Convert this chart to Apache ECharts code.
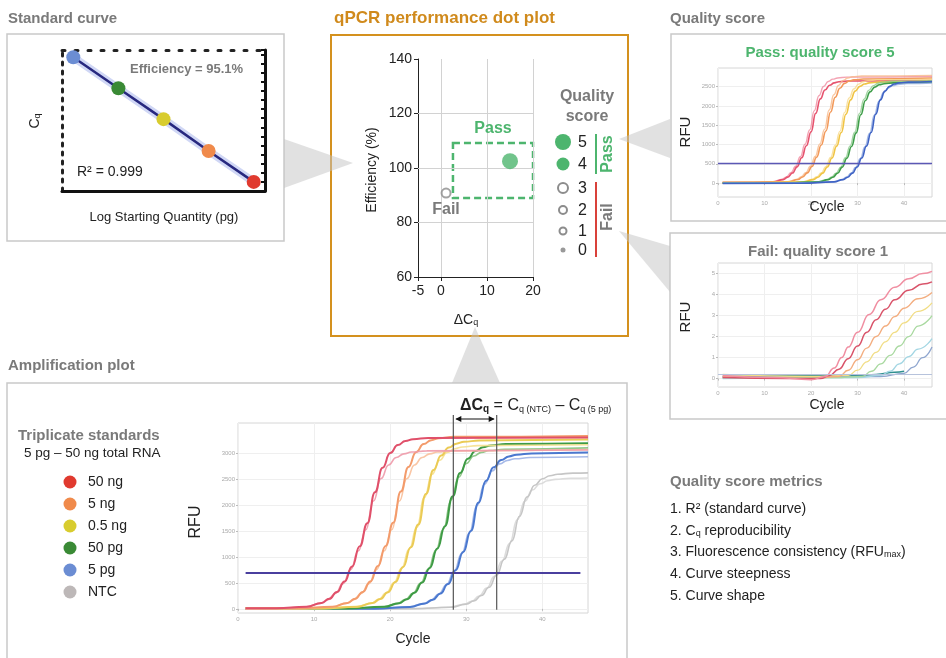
<!DOCTYPE html>
<html><head><meta charset="utf-8">
<script src="https://cdn.jsdelivr.net/npm/echarts@6/dist/echarts.min.js"></script>
<style>html,body{margin:0;padding:0;background:#fff}#c{width:946px;height:658px}</style>
</head><body><div id="c"></div>
<script>
// ---------------- DATA ----------------
// Standard curve
const stdLogQty = [0.7, 1.7, 2.7, 3.7, 4.7];
const stdCq = [28.7, 25.3, 21.9, 18.4, 15.0];
const stdLabelEff = 'Efficiency = 95.1%';
const stdLabelR2 = 'R² = 0.999';

// Dot plot
const dotDeltaCq = [15, 1.1];
const dotEfficiency = [102.5, 90.8];
const dotScore = [5, 1];
const dotXTicks = [-5, 0, 10, 20];
const dotYTicks = [60, 80, 100, 120, 140];
const passRegionDeltaCq = [2.6, 20];
const passRegionEff = [89, 109.2];
const scoreLegend = [5, 4, 3, 2, 1, 0];

// Amplification standards
const standardNames = ['50 ng', '5 ng', '0.5 ng', '50 pg', '5 pg', 'NTC'];
const cycleTicks = [0, 10, 20, 30, 40];
const ampYTicks = [0, 500, 1000, 1500, 2000, 2500, 3000];
const ampThreshold = 690;
const ampThresholdSpan = [1, 45];
const ampCqLines = [28.3, 34.0];

const ampRed1 = [[1,10],[5,12],[9,40],[11,114],[12,193],[13,323],[14,525],[15,818],[16,1205],[17,1650],[18,2247],[19,2716],[20,3000],[21,3155],[22,3231],[23,3267],[25,3293],[46,3300]];
const ampRed2 = [[1,5],[5,8],[8.8,37],[10.8,105],[11.8,178],[12.8,299],[13.8,485],[14.8,756],[15.8,1113],[16.8,1525],[17.8,2077],[18.8,2510],[19.8,2772],[20.8,2916],[21.8,2986],[22.8,3020],[24.8,3044],[46,3060]];
const ampOrange1 = [[1,10],[8,12],[12.4,40],[14.4,115],[15.4,194],[16.4,325],[17.4,528],[18.4,823],[19.4,1212],[20.4,1660],[21.4,2261],[22.4,2732],[23.4,3018],[24.4,3174],[25.4,3250],[26.4,3287],[28.4,3313],[46,3330]];
const ampOrange2 = [[1,0],[8,5],[12.2,37],[14.2,105],[15.2,178],[16.2,299],[17.2,485],[18.2,756],[19.2,1113],[20.2,1525],[21.2,2077],[22.2,2510],[23.2,2772],[24.2,2916],[25.2,2986],[26.2,3020],[28.2,3044],[46,3070]];
const ampYellow1 = [[1,10],[11,12],[15.7,39],[17.7,112],[18.7,190],[19.7,319],[20.7,517],[21.7,806],[22.7,1186],[23.7,1625],[24.7,2213],[25.7,2675],[26.7,2954],[27.7,3107],[28.7,3182],[29.7,3218],[31.7,3244],[46,3260]];
const ampYellow2 = [[1,0],[11,5],[15.5,38],[17.5,109],[18.5,184],[19.5,309],[20.5,501],[21.5,781],[22.5,1150],[23.5,1575],[24.5,2145],[25.5,2592],[26.5,2863],[27.5,3011],[28.5,3084],[29.5,3119],[31.5,3144],[46,3160]];
const ampGreen1 = [[1,5],[14,8],[19.2,38],[21.2,110],[22.2,186],[23.2,312],[24.2,506],[25.2,789],[26.2,1161],[27.2,1590],[28.2,2166],[29.2,2617],[30.2,2891],[31.2,3040],[32.2,3113],[33.2,3148],[35.2,3174],[46,3190]];
const ampGreen2 = [[1,0],[14,4],[19,37],[21,106],[22,180],[23,302],[24,490],[25,764],[26,1124],[27,1540],[28,2097],[29,2535],[30,2800],[31,2944],[32,3015],[33,3049],[35,3074],[46,3100]];
const ampBlue1 = [[1,0],[18,4],[22.6,36],[24.6,104],[25.6,176],[26.6,294],[27.6,477],[28.6,744],[29.6,1095],[30.6,1500],[31.6,2043],[32.6,2469],[33.6,2727],[34.6,2868],[35.6,2937],[36.6,2970],[38.6,2994],[46,3010]];
const ampBlue2 = [[1,10],[18,10],[22.4,35],[24.4,101],[25.4,171],[26.4,286],[27.4,464],[28.4,724],[29.4,1066],[30.4,1460],[31.4,1989],[32.4,2403],[33.4,2654],[34.4,2792],[35.4,2859],[36.4,2891],[38.4,2914],[46,2930]];
const ampNtc1 = [[1,0],[23,3],[28,31],[30,90],[31,153],[32,257],[33,417],[34,650],[35,956],[36,1310],[37,1784],[38,2156],[39,2382],[40,2505],[41,2565],[42,2594],[44,2615],[46,2620]];
const ampNtc2 = [[1,5],[23,5],[27.7,30],[29.7,87],[30.7,147],[31.7,247],[32.7,401],[33.7,625],[34.7,920],[35.7,1260],[36.7,1716],[37.7,2074],[38.7,2291],[39.7,2409],[40.7,2467],[41.7,2495],[43.7,2515],[46,2520]];

// Pass: quality score 5
const passYTicks = [0, 500, 1000, 1500, 2000, 2500];
const passThreshold = 510;
const passRed1 = [[1,10],[6,15],[12,32],[14,91],[15,155],[16,260],[17,421],[18,657],[19,967],[20,1325],[21,1805],[22,2181],[23,2409],[24,2533],[25,2594],[26,2624],[28,2645],[46,2660]];
const passRed2 = [[1,30],[6,30],[11.7,33],[13.7,95],[14.7,161],[15.7,270],[16.7,437],[17.7,682],[18.7,1004],[19.7,1375],[20.7,1873],[21.7,2263],[22.7,2500],[23.7,2629],[24.7,2692],[25.7,2723],[27.7,2745],[46,2760]];
const passOrange1 = [[1,0],[9,10],[15.2,32],[17.2,93],[18.2,158],[19.2,265],[20.2,429],[21.2,670],[22.2,986],[23.2,1350],[24.2,1839],[25.2,2222],[26.2,2454],[27.2,2581],[28.2,2643],[29.2,2673],[31.2,2695],[46,2720]];
const passOrange2 = [[1,20],[9,22],[14.9,33],[16.9,96],[17.9,163],[18.9,272],[19.9,442],[20.9,689],[21.9,1015],[22.9,1390],[23.9,1893],[24.9,2288],[25.9,2527],[26.9,2658],[27.9,2722],[28.9,2752],[30.9,2774],[46,2790]];
const passYellow1 = [[1,15],[12,18],[18.5,31],[20.5,90],[21.5,153],[22.5,257],[23.5,417],[24.5,650],[25.5,956],[26.5,1310],[27.5,1784],[28.5,2156],[29.5,2382],[30.5,2505],[31.5,2565],[32.5,2594],[34.5,2615],[46,2640]];
const passYellow2 = [[1,0],[12,8],[18.2,32],[20.2,92],[21.2,157],[22.2,263],[23.2,426],[24.2,665],[25.2,978],[26.2,1340],[27.2,1825],[28.2,2206],[29.2,2436],[30.2,2562],[31.2,2624],[32.2,2653],[34.2,2675],[46,2690]];
const passGreen1 = [[1,0],[15,5],[21.7,31],[23.7,90],[24.7,152],[25.7,255],[26.7,413],[27.7,645],[28.7,949],[29.7,1300],[30.7,1771],[31.7,2140],[32.7,2363],[33.7,2486],[34.7,2545],[35.7,2574],[37.7,2595],[46,2610]];
const passGreen2 = [[1,10],[15,12],[21.4,32],[23.4,91],[24.4,154],[25.4,259],[26.4,420],[27.4,655],[28.4,964],[29.4,1320],[30.4,1798],[31.4,2173],[32.4,2400],[33.4,2524],[34.4,2585],[35.4,2614],[37.4,2635],[46,2650]];
const passBlue1 = [[1,-10],[18,-5],[24.9,31],[26.9,90],[27.9,153],[28.9,257],[29.9,417],[30.9,650],[31.9,956],[32.9,1310],[33.9,1784],[34.9,2156],[35.9,2382],[36.9,2505],[37.9,2565],[38.9,2594],[40.9,2615],[46,2630]];
const passBlue2 = [[1,5],[18,8],[24.6,31],[26.6,89],[27.6,151],[28.6,253],[29.6,410],[30.6,640],[31.6,942],[32.6,1290],[33.6,1757],[34.6,2123],[35.6,2345],[36.6,2466],[37.6,2526],[38.6,2554],[40.6,2575],[46,2590]];

// Fail: quality score 1
const failYTicks = [0, 1, 2, 3, 4, 5];
const failThreshold = 0.2;
const failPink = [[1,0.15],[12,0.05],[20,-0.05],[23,0.1],[25,0.5],[26.6,1.0],[28,1.5],[30,2.2],[32.5,3.05],[35,3.75],[38,4.35],[41,4.75],[44,5.0],[46,5.1]];
const failRed = [[1,0.05],[15,0.0],[22,0.0],[24,0.15],[26,0.45],[28,0.95],[30,1.55],[32,2.2],[34,2.8],[36,3.3],[38,3.75],[41,4.2],[44,4.5],[46,4.6]];
const failOrange = [[1,0.1],[20,0.0],[26,0.1],[28,0.4],[30,0.9],[32,1.45],[34,2.0],[36,2.5],[38,2.95],[40,3.35],[43,3.8],[46,4.1]];
const failYellow = [[1,0.2],[20,0.1],[28,0.15],[30,0.4],[32,0.8],[34,1.25],[36,1.75],[38,2.2],[40,2.65],[43,3.2],[46,3.6]];
const failLightGreen = [[1,0.05],[25,0.05],[31,0.1],[33,0.35],[35,0.7],[37,1.1],[39,1.55],[41,2.0],[43,2.5],[46,3.0]];
const failCyan = [[1,0.0],[30,0.05],[35,0.15],[37,0.35],[39,0.7],[41,1.05],[43,1.4],[46,1.9]];
const failBlue = [[1,0.05],[35,0.1],[40,0.25],[42,0.55],[44,1.0],[46,1.5]];
const failTeal = [[1,0.1],[30,0.15],[34,0.2],[38,0.3],[40,0.35]];

const metricItems = ['1. R² (standard curve)', '2. C{s|q} reproducibility', '3. Fluorescence consistency (RFU{s|max})', '4. Curve steepness', '5. Curve shape'];

// ---------------- STYLE ----------------
const FONT = '"Liberation Sans", Arial, Helvetica, sans-serif';
const GRAY_T = '#7a7a7a';
const GREEN = '#4DB56E';
const ORANGE_T = '#D08A1C';
const stdColors = ['#6B8DD3', '#3A8A35', '#D8CC2E', '#F08A4B', '#E03A2F'];
const legendColors = ['#E03A2F', '#F08A4B', '#D8CC2E', '#3A8A35', '#6B8DD3', '#BDB8B8'];
const sizeByScore = {5: 16, 4: 13, 3: 12, 2: 10, 1: 9, 0: 5};
function scoreStyle(s) {
  if (s >= 4) return {color: GREEN};
  if (s === 0) return {color: '#999'};
  return {color: '#fff', borderColor: '#8c8c8c', borderWidth: 2};
}
const zip = (a, b) => a.map((v, i) => [v, b[i]]);
const AX_STD = 0, AX_DOT = 2, AX_PASS = 3, AX_FAIL = 4, AX_AMP = 5;

const chart = echarts.init(document.getElementById('c'), null, {renderer: 'canvas'});

function curve(data, color, ax, width, opacity) {
  return {type: 'line', xAxisIndex: ax, yAxisIndex: ax, data: data, smooth: true, smoothMonotone: 'x',
    showSymbol: false, symbol: 'none', silent: true, z: 3,
    lineStyle: {color: color, width: width || 1.5, opacity: opacity == null ? 1 : opacity}};
}
const tinyLabel = {fontSize: 6, color: '#aaa', fontFamily: FONT, margin: 3, formatter: v => String(v)};
function plotX(gi) {
  return {type: 'value', gridIndex: gi, min: 0, max: 46, interval: 10,
    axisLine: {show: false}, axisTick: {show: true, length: 2, customValues: cycleTicks, lineStyle: {color: '#bbb'}},
    axisLabel: Object.assign({customValues: cycleTicks}, tinyLabel), splitLine: {show: true, lineStyle: {color: '#efefef'}}};
}
function plotY(gi, min, max, ticks) {
  return {type: 'value', gridIndex: gi, min: min, max: max,
    axisLine: {show: false}, axisTick: {show: true, length: 2, customValues: ticks, lineStyle: {color: '#bbb'}},
    axisLabel: Object.assign({customValues: ticks}, tinyLabel), splitLine: {show: true, lineStyle: {color: '#efefef'}}};
}
const plotGrid = (l, t, w, h) => ({left: l, top: t, width: w, height: h, show: true, borderColor: '#d6d6d6', borderWidth: 1, backgroundColor: '#fff', containLabel: false, outerBoundsMode: 'none'});

const option = {
  animation: false,
  backgroundColor: '#fff',
  grid: [
    {left: 62, top: 50, width: 203, height: 141, containLabel: false, outerBoundsMode: 'none'},
    {left: 418, top: 59, width: 115, height: 218, containLabel: false, outerBoundsMode: 'none'},
    plotGrid(718, 68, 214, 129),
    plotGrid(718, 263, 214, 124),
    plotGrid(238, 423, 350, 190)
  ],
  xAxis: [
    {type: 'value', gridIndex: 0, min: 0.45, max: 4.95, position: 'bottom',
      axisLine: {show: true, lineStyle: {color: '#111', width: 3}}, axisTick: {show: false}, axisLabel: {show: false}, splitLine: {show: false}},
    {type: 'value', gridIndex: 0, min: 0.45, max: 4.95, position: 'top',
      axisLine: {show: true, lineStyle: {color: '#222', width: 3, type: [3, 10]}}, axisTick: {show: false}, axisLabel: {show: false}, splitLine: {show: false}},
    {type: 'value', gridIndex: 1, min: -5, max: 20, interval: 5,
      axisLine: {show: true, onZero: false, lineStyle: {color: '#222', width: 1}},
      axisTick: {show: true, length: 4, customValues: dotXTicks, lineStyle: {color: '#222'}},
      axisLabel: {customValues: dotXTicks, fontSize: 14, color: '#222', fontFamily: FONT, margin: 7},
      splitLine: {show: false}},
    plotX(2), plotX(3), plotX(4)
  ],
  yAxis: [
    {type: 'value', gridIndex: 0, min: 14, max: 29.5, position: 'left',
      axisLine: {show: true, onZero: false, lineStyle: {color: '#222', width: 3, type: [3, 6]}}, axisTick: {show: false}, axisLabel: {show: false}, splitLine: {show: false}},
    {type: 'value', gridIndex: 0, min: 14, max: 29.5, interval: 1, position: 'right',
      axisLine: {show: true, onZero: false, lineStyle: {color: '#111', width: 3}},
      axisTick: {show: true, inside: true, length: 4, lineStyle: {color: '#111', width: 2}}, axisLabel: {show: false}, splitLine: {show: false}},
    {type: 'value', gridIndex: 1, min: 60, max: 140, interval: 20,
      axisLine: {show: true, onZero: false, lineStyle: {color: '#222', width: 1}},
      axisTick: {show: true, length: 4, lineStyle: {color: '#222'}},
      axisLabel: {fontSize: 14, color: '#222', fontFamily: FONT, margin: 6}, splitLine: {show: false}},
    plotY(2, -360, 2980, passYTicks),
    plotY(3, -0.4, 5.5, failYTicks),
    plotY(4, -80, 3580, ampYTicks)
  ],
  series: [
    // standard curve
    {type: 'line', xAxisIndex: AX_STD, yAxisIndex: AX_STD, data: zip(stdLogQty, stdCq), showSymbol: false, symbol: 'none', silent: true, z: 2,
      lineStyle: {color: 'rgba(120,140,225,0.35)', width: 8}},
    {type: 'line', xAxisIndex: AX_STD, yAxisIndex: AX_STD, data: zip(stdLogQty, stdCq), showSymbol: false, symbol: 'none', silent: true, z: 3,
      lineStyle: {color: '#27287F', width: 2.5}},
    {type: 'scatter', xAxisIndex: AX_STD, yAxisIndex: AX_STD, data: zip(stdLogQty, stdCq), symbolSize: 14, silent: true, z: 5,
      itemStyle: {color: p => stdColors[p.dataIndex], opacity: 1}},
    // dot plot
    {type: 'scatter', xAxisIndex: AX_DOT, yAxisIndex: AX_DOT, silent: true, z: 5,
      data: dotDeltaCq.map((x, i) => ({value: [x, dotEfficiency[i]], symbolSize: sizeByScore[dotScore[i]], itemStyle: scoreStyle(dotScore[i])})),
      markLine: {silent: true, symbol: 'none', label: {show: false}, z: 1,
        lineStyle: {color: '#d2d2d2', width: 1, type: 'solid'},
        data: dotXTicks.slice(1).map(v => ({xAxis: v})).concat(dotYTicks.slice(1, -1).map(v => ({yAxis: v})))},
      markArea: {silent: true, label: {show: false},
        itemStyle: {color: 'rgba(0,0,0,0)', borderColor: GREEN, borderWidth: 2.5, borderType: [7, 4]},
        data: [[{coord: [passRegionDeltaCq[0], passRegionEff[1]]}, {coord: [passRegionDeltaCq[1], passRegionEff[0]]}]]}},
    // pass plot
    curve(passRed2, '#F08CA0', AX_PASS, 1.4, 0.8),
    curve(passRed1, '#E6536E', AX_PASS, 1.6),
    curve(passOrange2, '#F7B98A', AX_PASS, 1.4, 0.8),
    curve(passOrange1, '#F2995A', AX_PASS, 1.6),
    curve(passYellow2, '#F7DA8A', AX_PASS, 1.4, 0.8),
    curve(passYellow1, '#F0C445', AX_PASS, 1.6),
    curve(passGreen2, '#8CCB8C', AX_PASS, 1.4, 0.8),
    curve(passGreen1, '#3F9E4A', AX_PASS, 1.6),
    curve(passBlue2, '#8FA8E0', AX_PASS, 1.4, 0.8),
    Object.assign(curve(passBlue1, '#3F63C4', AX_PASS, 1.6), {
      markLine: {silent: true, symbol: 'none', label: {show: false}, lineStyle: {color: '#5B58B5', width: 1.3, type: 'solid'}, data: [{yAxis: passThreshold}]}}),
    // fail plot
    curve(failTeal, '#2F8F8F', AX_FAIL, 1.5),
    curve(failBlue, '#8FA6CF', AX_FAIL, 1.3),
    curve(failCyan, '#A3D6E3', AX_FAIL, 1.3),
    curve(failLightGreen, '#A9D9A0', AX_FAIL, 1.3),
    curve(failYellow, '#F1DD85', AX_FAIL, 1.3),
    curve(failOrange, '#F3AE80', AX_FAIL, 1.4),
    curve(failRed, '#D9546A', AX_FAIL, 1.5),
    Object.assign(curve(failPink, '#F08FA2', AX_FAIL, 1.5), {
      markLine: {silent: true, symbol: 'none', label: {show: false}, lineStyle: {color: '#B7C3DC', width: 1, type: 'solid'}, data: [{yAxis: failThreshold}]}}),
    // amplification plot
    curve(ampNtc2, '#DCDCDC', AX_AMP, 1.6),
    curve(ampNtc1, '#C6C6C6', AX_AMP, 1.6),
    curve(ampBlue2, '#9DB2E6', AX_AMP, 1.6, 0.9),
    curve(ampBlue1, '#4A78CF', AX_AMP, 2),
    curve(ampGreen2, '#86C27E', AX_AMP, 1.6, 0.9),
    curve(ampGreen1, '#3E9B45', AX_AMP, 2),
    curve(ampYellow2, '#F5E08F', AX_AMP, 1.6, 0.9),
    curve(ampYellow1, '#EBCB55', AX_AMP, 2),
    curve(ampOrange2, '#F8C09B', AX_AMP, 1.6, 0.9),
    curve(ampOrange1, '#F39B6B', AX_AMP, 2),
    curve(ampRed2, '#EE9AAA', AX_AMP, 1.6, 0.9),
    Object.assign(curve(ampRed1, '#E0506A', AX_AMP, 2), {
      markLine: {silent: true, symbol: 'none', label: {show: false}, z: 6, lineStyle: {color: '#4A3F9E', width: 2, type: 'solid'},
        data: [[{coord: [ampThresholdSpan[0], ampThreshold]}, {coord: [ampThresholdSpan[1], ampThreshold]}]]}})
  ]
};
chart.setOption(option);

// ---------------- GRAPHICS (boxes, text, legends, connectors) ----------------
function txt(x, y, text, o) {
  o = o || {};
  const rich = {};
  const base = {fontFamily: FONT, fill: o.color || '#222', color: o.color || '#222'};
  if (o.rich) {
    for (const k in o.rich) rich[k] = Object.assign({}, base, o.rich[k]);
  }
  return {type: 'text', x: x, y: y, rotation: o.rot || 0, z: 100,
    style: {text: text, fill: o.color || '#222', fontSize: o.size || 14, fontWeight: o.bold ? 'bold' : 'normal',
      fontFamily: FONT, align: o.align || 'left', verticalAlign: o.va || 'middle', rich: o.rich ? rich : undefined}};
}
const subRich = (size) => ({
  m: {fontSize: size, lineHeight: size + 4, verticalAlign: 'bottom'},
  s: {fontSize: Math.round(size * 0.62), lineHeight: size + 4, verticalAlign: 'bottom'}
});
const box = (x, y, w, h, stroke, lw) => ({type: 'rect', z: -5, shape: {x: x, y: y, width: w, height: h},
  style: {fill: '#fff', stroke: stroke, lineWidth: lw}});
const tri = (pts) => ({type: 'polygon', z: -4, shape: {points: pts}, style: {fill: 'rgba(195,195,195,0.5)'}});

const g = [];
g.push(box(7, 34, 277, 207, '#c9c9c9', 1.5));
g.push(box(331, 35, 297, 301, '#D4911E', 2));
g.push(box(671, 34, 290, 187, '#c9c9c9', 1.5));
g.push(box(670, 233, 290, 186, '#c9c9c9', 1.5));
g.push(box(7, 383, 620, 300, '#c9c9c9', 1.5));
g.push(tri([[284, 139], [353, 163], [284, 188]]));
g.push(tri([[452, 383], [475, 327], [500, 383]]));
g.push(tri([[619, 139], [670, 119], [670, 158]]));
g.push(tri([[619, 231], [670, 246], [670, 292]]));

g.push(txt(8, 19, 'Standard curve', {bold: true, size: 15, color: GRAY_T}));
g.push(txt(334, 18, 'qPCR performance dot plot', {bold: true, size: 17, color: ORANGE_T}));
g.push(txt(670, 19, 'Quality score', {bold: true, size: 15, color: GRAY_T}));
g.push(txt(8, 366, 'Amplification plot', {bold: true, size: 15, color: GRAY_T}));

g.push(txt(130, 69, stdLabelEff, {bold: true, size: 13, color: GRAY_T}));
g.push(txt(77, 172, stdLabelR2, {size: 14}));
g.push(txt(164, 217, 'Log Starting Quantity (pg)', {size: 13, align: 'center'}));
g.push(txt(33, 121, '{m|C}{s|q}', {rot: Math.PI / 2, align: 'center', rich: subRich(14)}));

g.push(txt(372, 170, 'Efficiency (%)', {rot: Math.PI / 2, align: 'center', size: 14}));
g.push(txt(466, 318, '{m|ΔC}{s|q}', {align: 'center', rich: subRich(14)}));
g.push(txt(493, 129, 'Pass', {bold: true, size: 16, color: GREEN, align: 'center'}));
g.push(txt(446, 210, 'Fail', {bold: true, size: 16, color: GRAY_T, align: 'center'}));
g.push(txt(587, 97, 'Quality', {bold: true, size: 16, color: GRAY_T, align: 'center'}));
g.push(txt(587, 117, 'score', {bold: true, size: 16, color: GRAY_T, align: 'center'}));
const legY = [142, 164, 188, 210, 231, 250];
scoreLegend.forEach((s, i) => {
  const st = scoreStyle(s);
  g.push({type: 'circle', z: 100, shape: {cx: 563, cy: legY[i], r: sizeByScore[s] / 2 - (st.borderWidth ? 1 : 0)},
    style: {fill: st.color, stroke: st.borderColor || null, lineWidth: st.borderWidth || 0}});
  g.push(txt(578, legY[i] + 1, String(s), {size: 16}));
});
g.push({type: 'line', z: 100, shape: {x1: 596, y1: 134, x2: 596, y2: 174}, style: {stroke: GREEN, lineWidth: 2}});
g.push({type: 'line', z: 100, shape: {x1: 596, y1: 182, x2: 596, y2: 257}, style: {stroke: '#D9413A', lineWidth: 2}});
g.push(txt(608, 154, 'Pass', {bold: true, size: 16, color: GREEN, align: 'center', rot: Math.PI / 2}));
g.push(txt(608, 217, 'Fail', {bold: true, size: 16, color: GRAY_T, align: 'center', rot: Math.PI / 2}));

g.push(txt(820, 53, 'Pass: quality score 5', {bold: true, size: 15, color: GREEN, align: 'center'}));
g.push(txt(686, 132, 'RFU', {size: 15, align: 'center', rot: Math.PI / 2}));
g.push(txt(827, 207, 'Cycle', {size: 14, align: 'center'}));
g.push(txt(818, 252, 'Fail: quality score 1', {bold: true, size: 15, color: GRAY_T, align: 'center'}));
g.push(txt(686, 317, 'RFU', {size: 15, align: 'center', rot: Math.PI / 2}));
g.push(txt(827, 405, 'Cycle', {size: 14, align: 'center'}));

g.push(txt(18, 436, 'Triplicate standards', {bold: true, size: 15, color: GRAY_T}));
g.push(txt(24, 453, '5 pg – 50 ng total RNA', {size: 13.5}));
standardNames.forEach((n, i) => {
  const y = 482 + i * 22;
  g.push({type: 'circle', z: 100, shape: {cx: 70, cy: y, r: 6.5}, style: {fill: legendColors[i]}});
  g.push(txt(88, y, n, {size: 14}));
});
g.push(txt(196, 522, 'RFU', {size: 16, align: 'center', rot: Math.PI / 2}));
g.push(txt(413, 639, 'Cycle', {size: 14, align: 'center'}));
g.push(txt(460, 404, '{a|ΔC}{as|q}{m| = C}{s|q (NTC)}{m| – C}{s|q (5 pg)}', {rich: {
  a: {fontSize: 16, fontWeight: 'bold', lineHeight: 20, verticalAlign: 'bottom'},
  as: {fontSize: 10, fontWeight: 'bold', lineHeight: 20, verticalAlign: 'bottom'},
  m: {fontSize: 16, lineHeight: 20, verticalAlign: 'bottom'},
  s: {fontSize: 9, lineHeight: 20, verticalAlign: 'bottom'}
}}));
const xA = chart.convertToPixel({xAxisIndex: AX_AMP}, ampCqLines[0]);
const xB = chart.convertToPixel({xAxisIndex: AX_AMP}, ampCqLines[1]);
const yZero = chart.convertToPixel({yAxisIndex: AX_AMP}, 0);
[xA, xB].forEach(x => g.push({type: 'line', z: 90, shape: {x1: x, y1: 415, x2: x, y2: yZero + 1}, style: {stroke: '#555', lineWidth: 1.2}}));
g.push({type: 'line', z: 90, shape: {x1: xA + 3, y1: 419, x2: xB - 3, y2: 419}, style: {stroke: '#111', lineWidth: 1.2}});
g.push({type: 'polygon', z: 90, shape: {points: [[xA + 2, 419], [xA + 8, 416], [xA + 8, 422]]}, style: {fill: '#111'}});
g.push({type: 'polygon', z: 90, shape: {points: [[xB - 2, 419], [xB - 8, 416], [xB - 8, 422]]}, style: {fill: '#111'}});

g.push(txt(670, 482, 'Quality score metrics', {bold: true, size: 15, color: GRAY_T}));
metricItems.forEach((t, i) => {
  g.push(txt(670, 507 + i * 21.7, '{m|' + t.replace(/\{s\|([^}]*)\}/g, '}{s|$1}{m|') + '}', {rich: subRich(14)}));
});

chart.setOption({graphic: {elements: g}});
</script>
</body></html>
